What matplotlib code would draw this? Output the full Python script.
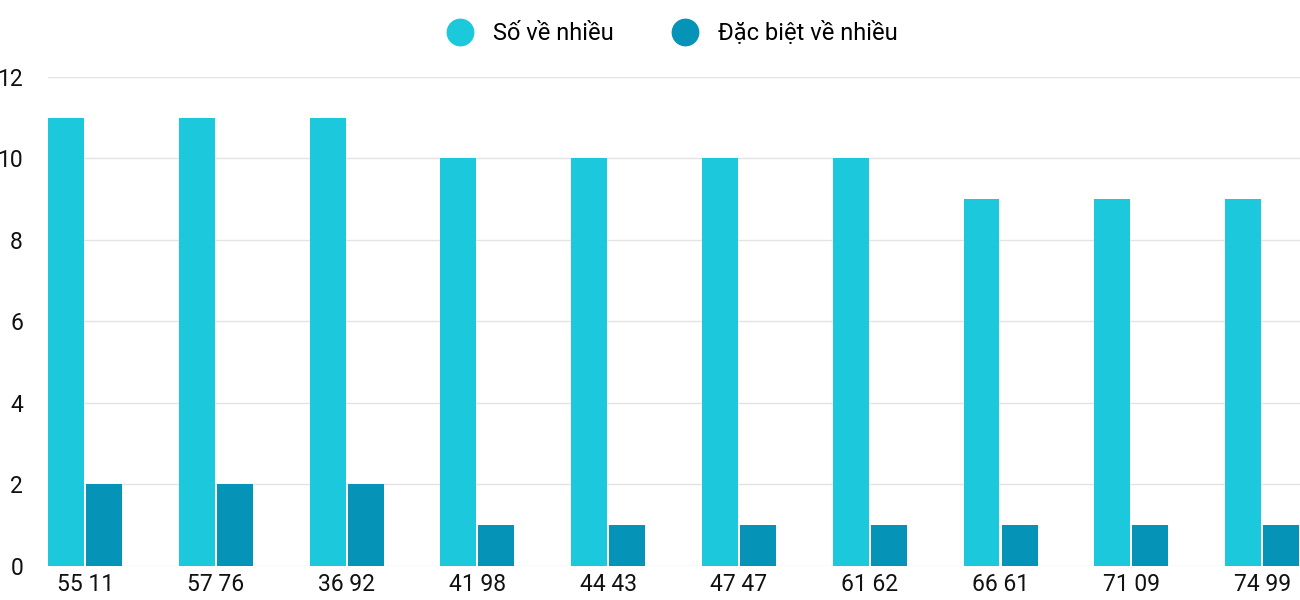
import matplotlib.pyplot as plt
import numpy as np
from matplotlib.lines import Line2D

plt.rcParams['font.family'] = ['Roboto', 'DejaVu Sans']

categories = ["55 11", "57 76", "36 92", "41 98", "44 43", "47 47", "61 62", "66 61", "71 09", "74 99"]
so_ve_nhieu = [11, 11, 11, 10, 10, 10, 10, 9, 9, 9]
dac_biet = [2, 2, 2, 1, 1, 1, 1, 1, 1, 1]

c1 = "#1BC8DC"
c2 = "#0594B8"

fig = plt.figure(figsize=(13, 6), dpi=100)
ax = fig.add_axes([0.037, 0.057, 0.963, 0.815])

x = np.arange(len(categories))
w = 0.275
ax.bar(x - w / 2 - 0.008, so_ve_nhieu, w, color=c1, zorder=3)
ax.bar(x + w / 2 + 0.008, dac_biet, w, color=c2, zorder=3)

ax.set_xlim(-0.283, 9.29)
ax.set_ylim(0, 12)
ax.set_yticks(range(0, 13, 2))
ax.set_xticks(x)
ax.set_xticklabels(categories)
ax.tick_params(length=0, labelsize=16.5, colors="#111111")
ax.tick_params(axis="y", pad=18)
ax.tick_params(axis="x", pad=5)
for lbl in ax.get_yticklabels():
    lbl.set_horizontalalignment("right")
ax.grid(axis="y", color="#E3E3E3", linewidth=1, zorder=0)
for s in ax.spines.values():
    s.set_visible(False)

handles = [
    Line2D([], [], marker="o", linestyle="", markersize=19, color=c1, label="Số về nhiều"),
    Line2D([], [], marker="o", linestyle="", markersize=19, color=c2, label="Đặc biệt về nhiều"),
]
fig.legend(handles=handles, loc="upper center", bbox_to_anchor=(0.513, 1.0), ncol=2,
           frameon=False, fontsize=17, handletextpad=0.4, columnspacing=2.0)

fig.savefig("out.png")
